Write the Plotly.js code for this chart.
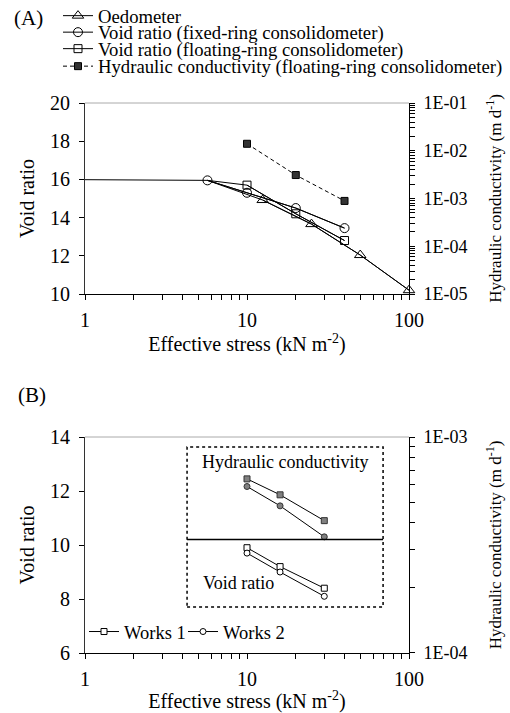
<!DOCTYPE html>
<html><head><meta charset="utf-8">
<script src="https://cdn.plot.ly/plotly-3.0.1.min.js"></script>
<style>html,body{margin:0;padding:0;background:#fff}#chart{width:510px;height:713px}</style>
</head><body><div id="chart"></div>
<script>
// ---------- Panel A data ----------
const initStress = [0.5];
const initVoid = [16.0];
const oedoStress = [12.5, 25, 50, 100];
const oedoVoid = [14.92, 13.66, 12.04, 10.2];
const fixedStress = [5.7, 10, 20, 40];
const fixedVoid = [15.95, 15.3, 14.5, 13.45];
const floatStress = [10, 20, 40];
const floatVoid = [15.7, 14.2, 12.8];
const hydStress = [10, 20, 40];
const hydK = [0.014, 0.0031, 0.00089];
// ---------- Panel B data ----------
const worksStress = [10, 16, 30];
const works1Void = [9.9, 9.2, 8.4];
const works2Void = [9.7, 9.0, 8.1];
const works1K = [6.4e-4, 5.4e-4, 4.1e-4];
const works2K = [5.9e-4, 4.8e-4, 3.45e-4];
// ---------- tick labels ----------
const stressMajor = [1, 10, 100];
const stressMajorText = ['1', '10', '100'];
const voidTicksA = [10, 12, 14, 16, 18, 20];
const voidTicksB = [6, 8, 10, 12, 14];
const kMajorA = [1e-5, 1e-4, 1e-3, 1e-2, 1e-1];
const kMajorTextA = ['1E-05', '1E-04', '1E-03', '1E-02', '1E-01'];
const kMajorB = [1e-4, 1e-3];
const kMajorTextB = ['1E-04', '1E-03'];

const FONT = 'Liberation Serif, Times New Roman, serif';
const W = 510, H = 713, ML = 85, MR = 101, MT = 103, MB = 60;
const PW = W - ML - MR, PH = H - MT - MB;

function logTicks(majors, labels) {
  const vals = [], text = [];
  majors.forEach((m, i) => {
    vals.push(m); text.push(labels[i]);
    if (i < majors.length - 1) {
      for (let k = 2; k <= 9; k++) { vals.push(m * k); text.push(''); }
    }
  });
  return {vals, text};
}
const xT = logTicks(stressMajor, stressMajorText);
const kA = logTicks(kMajorA, kMajorTextA);
const kB = logTicks(kMajorB, kMajorTextB);

function ax(extra) {
  return Object.assign({
    showgrid: false, zeroline: false, showline: true, linecolor: '#000', linewidth: 1,
    ticks: 'outside', ticklen: 5, tickcolor: '#000', tickwidth: 1,
    tickfont: {family: FONT, size: 20, color: '#000'}, tickmode: 'array', automargin: false
  }, extra);
}

const lineBlack = {color: '#000', width: 1};
const traces = [
  // connectors (no legend)
  {x: initStress.concat(fixedStress), y: initVoid.concat(fixedVoid), mode: 'lines', line: lineBlack,
   xaxis: 'x', yaxis: 'y', showlegend: false, hoverinfo: 'skip'},
  {x: fixedStress.slice(0, 1).concat(oedoStress), y: fixedVoid.slice(0, 1).concat(oedoVoid), mode: 'lines', line: lineBlack,
   xaxis: 'x', yaxis: 'y', showlegend: false, hoverinfo: 'skip'},
  {x: fixedStress.slice(0, 1).concat(floatStress), y: fixedVoid.slice(0, 1).concat(floatVoid), mode: 'lines', line: lineBlack,
   xaxis: 'x', yaxis: 'y', showlegend: false, hoverinfo: 'skip'},
  // series
  {name: 'Oedometer', x: oedoStress, y: oedoVoid, mode: 'lines+markers', line: lineBlack,
   marker: {symbol: 'triangle-up-open', size: 10, color: '#000', line: {width: 1}},
   xaxis: 'x', yaxis: 'y', legend: 'legend', cliponaxis: false},
  {name: 'Void ratio (fixed-ring consolidometer)', x: fixedStress, y: fixedVoid, mode: 'lines+markers', line: lineBlack,
   marker: {symbol: 'circle-open', size: 9, color: '#000', line: {width: 1}},
   xaxis: 'x', yaxis: 'y', legend: 'legend2', cliponaxis: false},
  {name: 'Void ratio (floating-ring consolidometer)', x: floatStress, y: floatVoid, mode: 'lines+markers', line: lineBlack,
   marker: {symbol: 'square-open', size: 8, color: '#000', line: {width: 1}},
   xaxis: 'x', yaxis: 'y', legend: 'legend3', cliponaxis: false},
  {name: 'Hydraulic conductivity (floating-ring consolidometer)', x: hydStress, y: hydK, mode: 'lines+markers',
   line: {color: '#000', width: 1, dash: '4px,3px'},
   marker: {symbol: 'square', size: 7, color: '#333', line: {color: '#000', width: 1}},
   xaxis: 'x', yaxis: 'y2', legend: 'legend4'},
  // panel B
  {x: worksStress, y: works1K, mode: 'lines+markers', line: lineBlack,
   marker: {symbol: 'square', size: 6, color: '#808080', line: {color: '#333', width: 1}},
   xaxis: 'x2', yaxis: 'y4', showlegend: false},
  {x: worksStress, y: works2K, mode: 'lines+markers', line: lineBlack,
   marker: {symbol: 'circle', size: 6, color: '#808080', line: {color: '#333', width: 1}},
   xaxis: 'x2', yaxis: 'y4', showlegend: false},
  {name: 'Works 1', x: worksStress, y: works1Void, mode: 'lines+markers', line: lineBlack,
   marker: {symbol: 'square', size: 6, color: '#fff', line: {color: '#000', width: 1}},
   xaxis: 'x2', yaxis: 'y3', legend: 'legend5'},
  {name: 'Works 2', x: worksStress, y: works2Void, mode: 'lines+markers', line: lineBlack,
   marker: {symbol: 'circle', size: 6, color: '#fff', line: {color: '#000', width: 1}},
   xaxis: 'x2', yaxis: 'y3', legend: 'legend6'}
];

// legends placed in paper coordinates from pixel positions
function leg(xpx, ypx, size) {
  return {x: (xpx - ML) / PW, y: (H - MB - ypx) / PH, xref: 'paper', yref: 'paper',
    xanchor: 'left', yanchor: 'middle', bgcolor: 'rgba(0,0,0,0)', borderwidth: 0,
    orientation: 'v', itemwidth: 30, font: {family: FONT, size: size, color: '#000'}};
}

const xTitle = {text: 'Effective stress (kN m<sup>-2</sup>)', font: {family: FONT, size: 20, color: '#000'}, standoff: 3};
const kTitle = {text: 'Hydraulic conductivity (m d<sup>-1</sup>)', font: {family: FONT, size: 17, color: '#000'}, standoff: 22};
const vTitle = {text: 'Void ratio', font: {family: FONT, size: 20, color: '#000'}, standoff: 9};

const layout = {
  width: W, height: H,
  margin: {l: ML, r: MR, t: MT, b: MB, autoexpand: false},
  paper_bgcolor: '#fff', plot_bgcolor: '#fff',
  font: {family: FONT, color: '#000'},
  xaxis: ax({type: 'log', range: [0, 2], domain: [0, 1], anchor: 'y', tickvals: xT.vals, ticktext: xT.text, title: xTitle, ticklabelstandoff: 3}),
  yaxis: ax({range: [10, 20], domain: [0.6527, 1], anchor: 'x', tickvals: voidTicksA, linecolor: '#333', title: vTitle, ticklabelstandoff: 5}),
  yaxis2: ax({type: 'log', range: [-5, -1], overlaying: 'y', side: 'right', anchor: 'x', tickvals: kA.vals, ticktext: kA.text,
    tickfont: {family: FONT, size: 18, color: '#000'}, title: kTitle, ticklabelstandoff: 5}),
  xaxis2: ax({type: 'log', range: [0, 2], domain: [0, 1], anchor: 'y3', tickvals: xT.vals, ticktext: xT.text, title: xTitle, ticklabelstandoff: 3}),
  yaxis3: ax({range: [6, 14], domain: [0, 0.3927], anchor: 'x2', tickvals: voidTicksB, linecolor: '#333', title: vTitle, ticklabelstandoff: 5}),
  yaxis4: ax({type: 'log', range: [-4, -3], overlaying: 'y3', side: 'right', anchor: 'x2', tickvals: kB.vals, ticktext: kB.text,
    tickfont: {family: FONT, size: 18, color: '#000'}, title: kTitle, ticklabelstandoff: 5}),
  legend: leg(58, 16, 18.7),
  legend2: leg(58, 32.5, 18.7),
  legend3: leg(58, 49, 18.7),
  legend4: leg(58, 66.5, 18.7),
  legend5: leg(84, 632, 18.5),
  legend6: leg(183, 632, 18.5),
  shapes: [
    {type: 'line', xref: 'x domain', yref: 'y domain', x0: 0, x1: 1, y0: 1, y1: 1, line: {color: '#aaa', width: 1}},
    {type: 'line', xref: 'x2 domain', yref: 'y3 domain', x0: 0, x1: 1, y0: 1, y1: 1, line: {color: '#aaa', width: 1}},
    {type: 'rect', xref: 'x2 domain', yref: 'y3 domain', x0: 0.315, x1: 0.92, y0: 0.213, y1: 0.954, line: {color: '#000', width: 1.5, dash: 'dot'}},
    {type: 'line', xref: 'x2 domain', yref: 'y3 domain', x0: 0.315, x1: 0.92, y0: 0.525, y1: 0.525, line: {color: '#000', width: 1.5}}
  ],
  annotations: [
    {text: '(A)', xref: 'paper', yref: 'paper', x: (12 - ML) / PW, y: (H - MB - 18) / PH, xanchor: 'left', yanchor: 'middle', showarrow: false, font: {family: FONT, size: 21, color: '#000'}},
    {text: '(B)', xref: 'paper', yref: 'paper', x: (16 - ML) / PW, y: (H - MB - 395) / PH, xanchor: 'left', yanchor: 'middle', showarrow: false, font: {family: FONT, size: 21, color: '#000'}},
    {text: 'Hydraulic conductivity', xref: 'x2 domain', yref: 'y3 domain', x: 0.617, y: 0.884, xanchor: 'center', yanchor: 'middle', showarrow: false, font: {family: FONT, size: 18, color: '#000'}},
    {text: 'Void ratio', xref: 'x2 domain', yref: 'y3 domain', x: 0.357, y: 0.324, xanchor: 'left', yanchor: 'middle', showarrow: false, font: {family: FONT, size: 18, color: '#000'}}
  ]
};

Plotly.newPlot('chart', traces, layout, {displayModeBar: false, staticPlot: true});
</script>
</body></html>
